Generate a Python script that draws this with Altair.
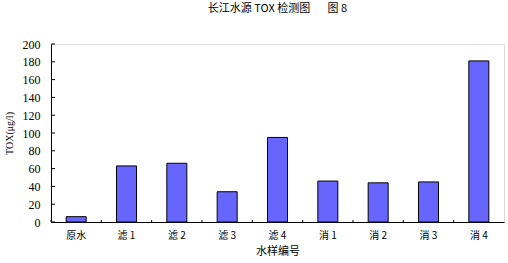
import altair as alt
import pandas as pd

categories = ["原水", "滤 1", "滤 2", "滤 3", "滤 4", "消 1", "消 2", "消 3", "消 4"]
values = [6, 63, 66, 34, 95, 46, 44, 45, 181]
y_ticks = [0, 20, 40, 60, 80, 100, 120, 140, 160, 180, 200]

df = pd.DataFrame({"cat": categories, "val": values})
tick_df = pd.DataFrame({"t": y_ticks})

FONT = "Noto Sans CJK SC"
W, H = 453, 178

xscale = alt.Scale(domain=categories, paddingInner=0, paddingOuter=0)
yscale = alt.Scale(domain=[0, 200], nice=False)

xaxis = alt.Axis(title="水样编号", ticks=False, labelAngle=0, labelPadding=8,
                 labelFont=FONT, labelFontSize=10, labelColor="black",
                 titleFont=FONT, titleFontSize=11, titleFontWeight="normal",
                 titleColor="black", titlePadding=5,
                 domainColor="black", domainWidth=1)
yaxis = alt.Axis(title="TOX(μg/l)", values=y_ticks, ticks=False, labelPadding=11,
                 labelOverlap=False,
                 labelFont="Liberation Serif", labelFontSize=12, labelColor="black",
                 titleFont="Liberation Serif", titleFontSize=10, titleFontWeight="normal",
                 titleColor="black", titlePadding=8,
                 domainColor="black", domainWidth=1, grid=False)

bars = alt.Chart(df).mark_bar(size=20, color="#6666FF", stroke="black", strokeWidth=1).encode(
    x=alt.X("cat:N", scale=xscale, sort=categories, axis=xaxis, title="水样编号"),
    y=alt.Y("val:Q", scale=yscale, axis=yaxis, title="TOX(μg/l)"),
)

yticks = alt.Chart(tick_df).mark_rule(color="black", strokeWidth=1).encode(
    y=alt.Y("t:Q", scale=yscale, axis=yaxis, title="TOX(μg/l)"),
    x=alt.value(0),
    x2=alt.value(4),
)

xticks = alt.Chart(df).mark_rule(color="black", strokeWidth=1).encode(
    x=alt.X("cat:N", scale=xscale, sort=categories, bandPosition=0, axis=xaxis, title="水样编号"),
    y=alt.value(H - 2),
    y2=alt.value(H),
)

chart = alt.layer(bars, yticks, xticks).properties(
    width=W, height=H,
    title=alt.TitleParams("长江水源 TOX 检测图\u00a0\u00a0\u00a0\u00a0\u00a0\u00a0\u00a0图 8",
                          font=FONT, fontSize=11, fontWeight="normal", color="black",
                          anchor="middle", offset=24),
    autosize=alt.AutoSizeParams(type="none"),
    padding={"left": 51, "top": 44, "right": 4, "bottom": 41},
).configure_view(stroke=None).configure(background="white")

chart.save("out.html", embed_options={"renderer": "svg", "actions": False})
